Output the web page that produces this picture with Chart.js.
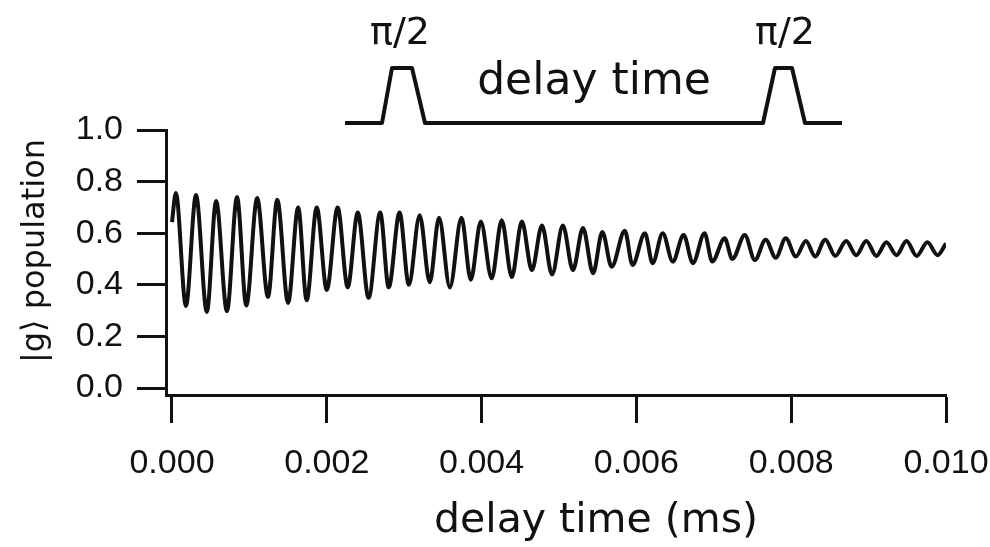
<!DOCTYPE html>
<html>
<head>
<meta charset="utf-8">
<script src="https://cdn.jsdelivr.net/npm/chart.js@4"></script>
<style>
  html, body { margin: 0; padding: 0; background: #fff; }
  #wrap { position: relative; width: 990px; height: 547px; }
</style>
</head>
<body>
<div id="wrap"><canvas id="grafica"></canvas></div>
<script>
// delay time (ms) at each turning point
const delayTime = [
    0.00000, 0.00005, 0.00018, 0.00031, 0.00045, 0.00057, 0.00071, 0.00084, 0.00096, 0.00110,
    0.00124, 0.00136, 0.00150, 0.00163, 0.00174, 0.00187, 0.00200, 0.00214, 0.00227, 0.00240,
    0.00254, 0.00269, 0.00280, 0.00294, 0.00306, 0.00320, 0.00333, 0.00345, 0.00359, 0.00374,
    0.00386, 0.00399, 0.00413, 0.00426, 0.00439, 0.00452, 0.00465, 0.00478, 0.00491, 0.00505,
    0.00518, 0.00531, 0.00544, 0.00556, 0.00568, 0.00585, 0.00595, 0.00611, 0.00621, 0.00634,
    0.00647, 0.00661, 0.00673, 0.00688, 0.00698, 0.00714, 0.00724, 0.00740, 0.00753, 0.00767,
    0.00780, 0.00793, 0.00806, 0.00819, 0.00831, 0.00844, 0.00857, 0.00871, 0.00884, 0.00897,
    0.00910, 0.00923, 0.00936, 0.00949, 0.00962, 0.00976, 0.00989, 0.01000
];
// |g> population
const population = [
    0.643, 0.756, 0.318, 0.748, 0.295, 0.725, 0.298, 0.740, 0.320, 0.736,
    0.353, 0.730, 0.330, 0.700, 0.340, 0.700, 0.380, 0.700, 0.390, 0.680,
    0.350, 0.680, 0.390, 0.680, 0.400, 0.670, 0.410, 0.660, 0.390, 0.660,
    0.420, 0.645, 0.425, 0.650, 0.430, 0.645, 0.457, 0.630, 0.440, 0.630,
    0.457, 0.620, 0.445, 0.605, 0.470, 0.610, 0.477, 0.600, 0.484, 0.600,
    0.490, 0.593, 0.484, 0.600, 0.490, 0.580, 0.500, 0.593, 0.496, 0.575,
    0.505, 0.580, 0.510, 0.570, 0.510, 0.575, 0.512, 0.570, 0.515, 0.570,
    0.512, 0.565, 0.515, 0.570, 0.512, 0.565, 0.515, 0.560
];
const xTicks = [0, 0.002, 0.004, 0.006, 0.008, 0.010];
const yTicks = [0, 0.2, 0.4, 0.6, 0.8, 1.0];

const fuente = "'DejaVu Sans', sans-serif";
const fuenteTicks = "'Liberation Sans', Arial, sans-serif";

// pulse sequence sketch and axis titles
const secuencia = {
    id: 'secuencia',
    afterDraw(chart) {
        const ctx = chart.ctx;
        ctx.save();
        ctx.strokeStyle = '#111';
        ctx.lineWidth = 4;
        ctx.lineJoin = 'round';
        ctx.beginPath();
        ctx.moveTo(345, 123);
        ctx.lineTo(382, 123);
        ctx.lineTo(392, 68);
        ctx.lineTo(412, 68);
        ctx.lineTo(425, 123);
        ctx.lineTo(763, 123);
        ctx.lineTo(775, 68);
        ctx.lineTo(792, 68);
        ctx.lineTo(805, 123);
        ctx.lineTo(842, 123);
        ctx.stroke();

        ctx.fillStyle = '#111';
        ctx.textAlign = 'center';
        ctx.textBaseline = 'alphabetic';
        ctx.font = '38px ' + fuente;
        ctx.fillText('\u03c0/2', 400, 44);
        ctx.fillText('\u03c0/2', 785, 44);
        ctx.font = '44px ' + fuente;
        ctx.fillText('delay time', 594, 94);

        // x title
        ctx.font = '41px ' + fuente;
        ctx.fillText('delay time (ms)', 596, 532);

        // y title
        ctx.translate(44, 251);
        ctx.rotate(-Math.PI / 2);
        ctx.font = '32px ' + fuente;
        ctx.fillText('|g\u27e9 population', 0, 0);
        ctx.restore();
    }
};

new Chart(document.getElementById('grafica'), {
    type: 'line',
    data: {
        datasets: [{
            data: delayTime.map((t, i) => ({ x: t, y: population[i] })),
            borderColor: '#111',
            borderWidth: 4,
            pointRadius: 0,
            cubicInterpolationMode: 'monotone',
            fill: false
        }]
    },
    options: {
        responsive: true,
        maintainAspectRatio: false,
        animation: false,
        layout: { padding: { top: 130, right: 44, bottom: 0, left: 0 } },
        plugins: { legend: { display: false }, tooltip: { enabled: false } },
        scales: {
            x: {
                type: 'linear',
                min: -0.0000775,
                max: 0.010,
                afterBuildTicks: (s) => { s.ticks = xTicks.map(v => ({ value: v })); },
                afterFit: (s) => { s.height = 152; s.paddingLeft = 0; s.paddingRight = 0; },
                grid: { drawOnChartArea: false, drawTicks: true, tickLength: 28, tickWidth: 3, tickColor: '#111' },
                border: { display: true, color: '#111', width: 3 },
                ticks: {
                    color: '#111',
                    padding: 20,
                    maxRotation: 0,
                    font: { family: fuenteTicks, size: 34 },
                    callback: (v) => v.toFixed(3)
                }
            },
            y: {
                min: -0.027,
                max: 1.0,
                afterBuildTicks: (s) => { s.ticks = yTicks.map(v => ({ value: v })); },
                afterFit: (s) => { s.width = 166; s.paddingTop = 0; s.paddingBottom = 0; },
                grid: { drawOnChartArea: false, drawTicks: true, tickLength: 29, tickWidth: 3, tickColor: '#111' },
                border: { display: true, color: '#111', width: 3 },
                ticks: {
                    color: '#111',
                    padding: 14,
                    font: { family: fuenteTicks, size: 34 },
                    callback: (v) => v.toFixed(1)
                }
            }
        }
    },
    plugins: [secuencia]
});
</script>
</body>
</html>
